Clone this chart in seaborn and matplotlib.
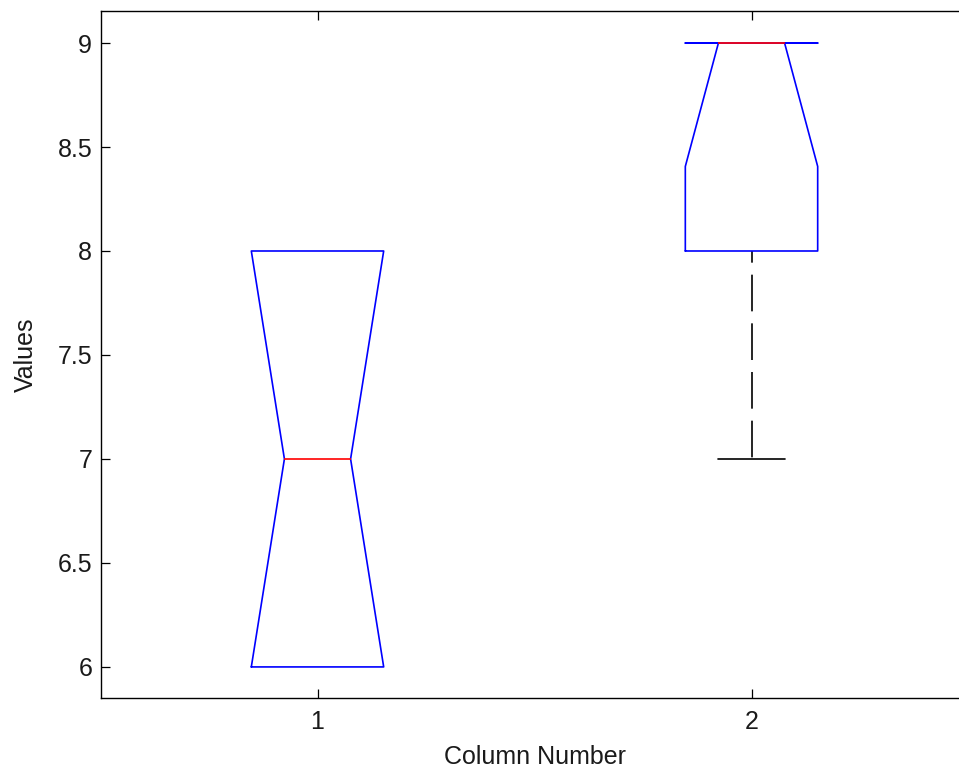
import numpy as np
import pandas as pd
import matplotlib
matplotlib.use("Agg")
import matplotlib.pyplot as plt
import seaborn as sns

# ---- data ----
col1_values = [6, 6, 6, 7, 7, 8, 8, 8]
col2_values = [7, 8, 8, 9, 9, 9, 9]
column_labels = ["1", "2"]
ytick_values = [6, 6.5, 7, 7.5, 8, 8.5, 9]
ytick_labels = ["6", "6.5", "7", "7.5", "8", "8.5", "9"]
x_label = "Column Number"
y_label = "Values"

df = pd.DataFrame({
    "column": [column_labels[0]] * len(col1_values) + [column_labels[1]] * len(col2_values),
    "value": col1_values + col2_values,
})

sns.set_style("ticks")
plt.rcParams["font.family"] = ["Liberation Sans", "DejaVu Sans"]
plt.rcParams["xtick.direction"] = "in"
plt.rcParams["ytick.direction"] = "in"

fig = plt.figure(figsize=(9.59, 7.70), dpi=100)
ax = fig.add_axes([100.5 / 959, 72.5 / 770, 868 / 959, 686.5 / 770])

sns.boxplot(
    data=df, x="column", y="value", order=column_labels,
    fill=False, width=0.305, notch=True, linewidth=1.2,
    boxprops=dict(color="#0000ff", zorder=2.05),
    medianprops=dict(color="#ff0000", zorder=2.1),
    whiskerprops=dict(color="black"),
    capprops=dict(color="black"),
    ax=ax,
)

cont = ax.containers[0]
for box in cont.boxes:
    y = np.asarray(box.get_ydata(), float)
    lo, hi = y[0], y[5]
    box.set_ydata(np.clip(y, lo, hi))
    box.set_color("#0000ff")
    box.set_zorder(2.05)
for med in cont.medians:
    med.set_color("#ff0000")
    med.set_zorder(2.1)
# hide zero-length whiskers and their caps (they coincide with the box edges)
for w, c in zip(cont.whiskers, cont.caps):
    w.set_color("black")
    w.set_linestyle((15, (22, 7.2)))
    c.set_color("black")
    wy = np.asarray(w.get_ydata(), float)
    if np.isclose(wy[0], wy[1]):
        w.set_visible(False)
        c.set_visible(False)

ax.set_xlim(-0.5, 1.5)
ax.set_ylim(5.853, 9.154)
ax.set_yticks(ytick_values)
ax.set_yticklabels(ytick_labels)
ax.set_xlabel(x_label, fontsize=18, color="#1a1a1a", labelpad=8)
ax.set_ylabel(y_label, fontsize=18, color="#1a1a1a", labelpad=14)
ax.tick_params(axis="both", which="both", direction="in", length=6.5, width=0.9,
               labelsize=18, colors="black", labelcolor="#1a1a1a",
               top=True, right=True)
ax.tick_params(axis="x", pad=9)
ax.tick_params(axis="y", pad=6)
for s in ax.spines.values():
    s.set_visible(True)
    s.set_color("black")
    s.set_linewidth(1.0)
ax.grid(False)

fig.savefig("out.png", dpi=100)
